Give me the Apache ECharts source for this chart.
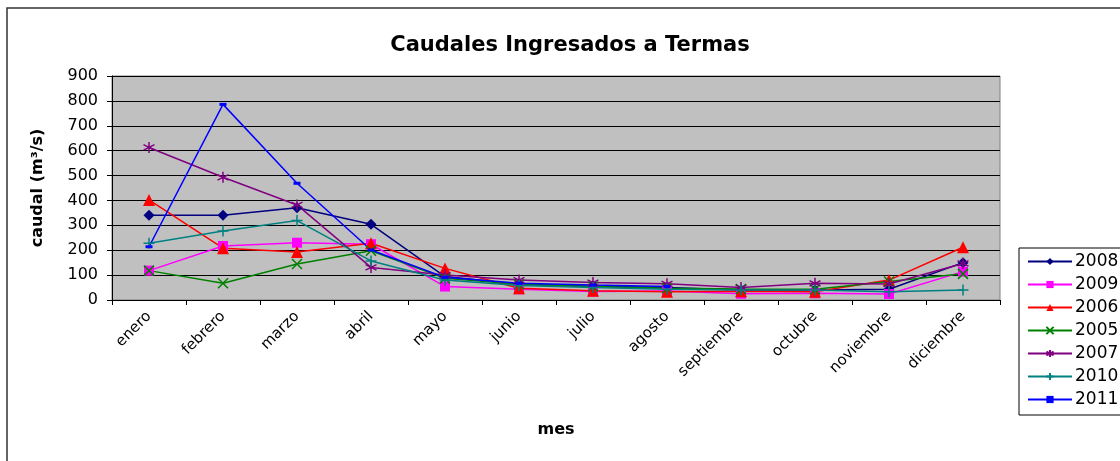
<!DOCTYPE html>
<html>
<head>
<meta charset="utf-8">
<script src="https://cdn.jsdelivr.net/npm/echarts@6/dist/echarts.min.js"></script>
<style>
  html, body { margin: 0; padding: 0; background: #fff; }
  #chart { width: 1120px; height: 461px; }
</style>
</head>
<body>
<div id="chart"></div>
<script>
// --- Datos ---
const meses = ['enero', 'febrero', 'marzo', 'abril', 'mayo', 'junio', 'julio', 'agosto', 'septiembre', 'octubre', 'noviembre', 'diciembre'];
const yTicks = [0, 100, 200, 300, 400, 500, 600, 700, 800, 900];

const q2008 = [341, 341, 371, 304, 94, 63, 55, 50, 40, 40, 43, 150];
const q2009 = [118, 217, 230, 224, 54, 43, 34, 36, 25, 27, 24, 114];
const q2006 = [402, 208, 193, 228, 127, 47, 37, 33, 35, 33, 80, 212];
const q2005 = [118, 67, 145, 198, 87, 63, 54, 47, 44, 43, 74, 105];
const q2007 = [613, 493, 382, 131, 100, 80, 70, 65, 50, 67, 64, 147];
const q2010 = [228, 277, 319, 157, 80, 58, 50, 43, 40, 40, 33, 40];
const q2011 = [214, 786, 469, 201, 91, 67, 60, 54, null, null, null, null];

const chart = echarts.init(document.getElementById('chart'));
const fuente = 'DejaVu Sans, Arial, sans-serif';

// marcadores de trazo (sin relleno)
const xMark = 'path://M0,0L10,10M10,0L0,10';
const starMark = 'path://M5,0L5,10M0.7,2.5L9.3,7.5M0.7,7.5L9.3,2.5';
const plusMark = 'path://M5,0L5,10M0,5L10,5';

const mkSerie = (name, data, color, symbol, size, stroke) => ({
    name, type: 'line', data,
    symbol, symbolSize: size,
    showSymbol: true,
    lineStyle: { color, width: 1.5 },
    itemStyle: stroke ? { color: 'transparent', borderColor: color, borderWidth: 1.5 } : { color, borderColor: color, borderWidth: 0 },
    emphasis: { disabled: true },
    animation: false
});

chart.setOption({
    backgroundColor: '#fff',
    textStyle: { fontFamily: fuente },
    title: {
        text: 'Caudales Ingresados a Termas',
        left: 565, top: 30, textAlign: 'center',
        textStyle: { fontFamily: fuente, fontSize: 21, fontWeight: 'bold', color: '#000' }
    },
    graphic: [{
        type: 'rect', shape: { x: 7, y: 8, width: 1130, height: 470 },
        style: { fill: 'none', stroke: '#333', lineWidth: 1.5 }, silent: true, z: -1
    }],
    legend: {
        orient: 'vertical', left: 1019, top: 248,
        itemWidth: 44, itemHeight: 9, itemGap: 4,
        padding: [4, 6, 6, 8],
        backgroundColor: '#fff', borderColor: '#000', borderWidth: 1,
        textStyle: { fontFamily: fuente, fontSize: 17, lineHeight: 19, color: '#000', padding: [0, 0, 0, -2] },
        data: ['2008', '2009', '2006', '2005', '2007', '2010', '2011']
    },
    grid: {
        left: 112, right: 120, top: 76, bottom: 161,
        show: true, backgroundColor: '#C0C0C0', borderColor: '#808080', borderWidth: 1
    },
    xAxis: {
        type: 'category', data: meses, boundaryGap: true,
        name: 'mes', nameLocation: 'middle', nameGap: 122,
        nameTextStyle: { fontFamily: fuente, fontSize: 16, fontWeight: 'bold', color: '#000' },
        axisLine: { lineStyle: { color: '#000', width: 1 } },
        axisTick: { show: true, length: 5, lineStyle: { color: '#000' } },
        axisLabel: { rotate: 45, fontSize: 15, color: '#000', margin: 14, interval: 0 },
        splitLine: { show: false }
    },
    yAxis: {
        type: 'value', min: yTicks[0], max: yTicks[yTicks.length - 1], interval: 100,
        name: 'caudal (m³/s)', nameLocation: 'middle', nameGap: 66,
        nameTextStyle: { fontFamily: fuente, fontSize: 16, fontWeight: 'bold', color: '#000' },
        axisLine: { show: true, lineStyle: { color: '#000', width: 1 } },
        axisTick: { show: true, length: 5, lineStyle: { color: '#000' } },
        axisLabel: { fontSize: 16, color: '#000', margin: 14 },
        splitLine: { show: true, lineStyle: { color: '#000', width: 1 } }
    },
    series: [
        mkSerie('2008', q2008, '#000080', 'diamond', 11, false),
        mkSerie('2009', q2009, '#FF00FF', 'rect', 10, false),
        mkSerie('2006', q2006, '#FF0000', 'triangle', 12, false),
        mkSerie('2005', q2005, '#008000', xMark, 10, true),
        mkSerie('2007', q2007, '#800080', starMark, 11, true),
        mkSerie('2010', q2010, '#008080', plusMark, 11, true),
        mkSerie('2011', q2011, '#0000FF', 'rect', [7, 3], false)
    ]
});
</script>
</body>
</html>
